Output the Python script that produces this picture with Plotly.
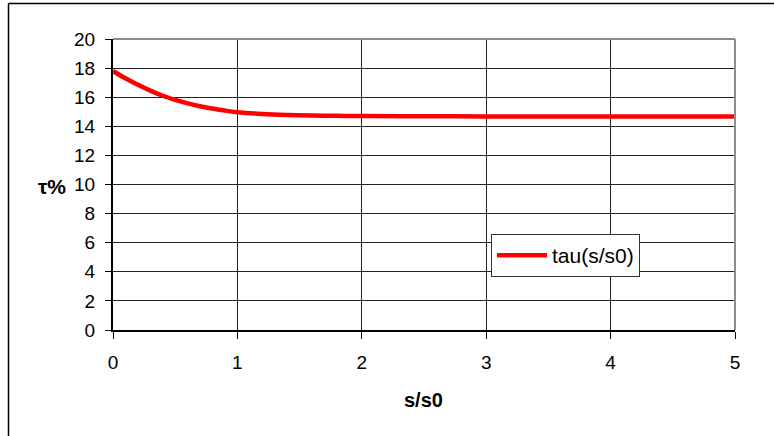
import plotly.graph_objects as go

s_ratio = [0, 0.1, 0.2, 0.3, 0.4, 0.5, 0.6, 0.7, 0.8, 0.9, 1.0, 1.2, 1.4, 1.6, 1.8, 2.0, 2.5, 3.0, 3.5, 4.0, 4.5, 5.0]
tau = [17.8, 17.3, 16.85, 16.45, 16.1, 15.82, 15.58, 15.38, 15.22, 15.08, 14.97, 14.85, 14.78, 14.74, 14.72, 14.7, 14.69, 14.68, 14.68, 14.68, 14.68, 14.68]
x_ticks = [0, 1, 2, 3, 4, 5]
y_ticks = [0, 2, 4, 6, 8, 10, 12, 14, 16, 18, 20]

W, H = 774, 436
L, R, T, B = 113, 39, 39, 106
pw, ph = W - L - R, H - T - B

def px(x):
    return (x - L) / pw

def py(y):
    return (H - B - y) / ph

FONT = "Arial, Liberation Sans, sans-serif"

fig = go.Figure()
fig.add_trace(go.Scatter(
    x=s_ratio, y=tau, mode="lines", name="tau(s/s0)",
    line=dict(color="#ff0000", width=4.5, shape="spline"),
))

axis_font = dict(family=FONT, size=19, color="black")
fig.update_layout(
    width=W, height=H,
    margin=dict(l=L, r=R, t=T, b=B),
    paper_bgcolor="white", plot_bgcolor="white",
    showlegend=True,
    legend=dict(
        x=px(491), y=py(234), xanchor="left", yanchor="top",
        bgcolor="white", bordercolor="#333333", borderwidth=1,
        font=dict(family=FONT, size=21, color="black"),
        itemwidth=50,
    ),
    xaxis=dict(
        range=[0, 5], tickvals=x_ticks, ticktext=[str(v) for v in x_ticks],
        showgrid=True, gridcolor="#222222", gridwidth=1,
        showline=True, linecolor="black", linewidth=2,
        ticks="outside", ticklen=7, tickcolor="black", tickwidth=1,
        ticklabelstandoff=7, tickfont=axis_font, zeroline=False,
    ),
    yaxis=dict(
        range=[0, 20], tickvals=y_ticks, ticktext=[str(v) for v in y_ticks],
        showgrid=True, gridcolor="#222222", gridwidth=1,
        showline=True, linecolor="black", linewidth=2,
        ticks="outside", ticklen=6, tickcolor="black", tickwidth=1,
        ticklabelstandoff=6, tickfont=axis_font, zeroline=False,
    ),
    shapes=[
        dict(type="line", xref="paper", yref="paper", x0=0, x1=1, y0=1, y1=1,
             line=dict(color="#8c8c8c", width=2)),
        dict(type="line", xref="paper", yref="paper", x0=1, x1=1, y0=0, y1=1,
             line=dict(color="#8c8c8c", width=2)),
        dict(type="line", xref="paper", yref="paper", x0=px(8.5), x1=px(8.5), y0=py(3.5), y1=py(440),
             line=dict(color="black", width=1.5)),
        dict(type="line", xref="paper", yref="paper", x0=px(8.5), x1=px(780), y0=py(3.5), y1=py(3.5),
             line=dict(color="black", width=1.5)),
    ],
    annotations=[
        dict(text="<b>τ%</b>", xref="paper", yref="paper", x=px(52), y=py(186),
             xanchor="center", yanchor="middle", showarrow=False,
             font=dict(family=FONT, size=21, color="black")),
        dict(text="<b>s/s0</b>", xref="paper", yref="paper", x=px(423), y=py(400),
             xanchor="center", yanchor="middle", showarrow=False,
             font=dict(family=FONT, size=20, color="black")),
    ],
)

fig.write_html("out.html", config={"displayModeBar": False},
               post_script="document.body.style.margin='0';document.body.style.padding='0';")
